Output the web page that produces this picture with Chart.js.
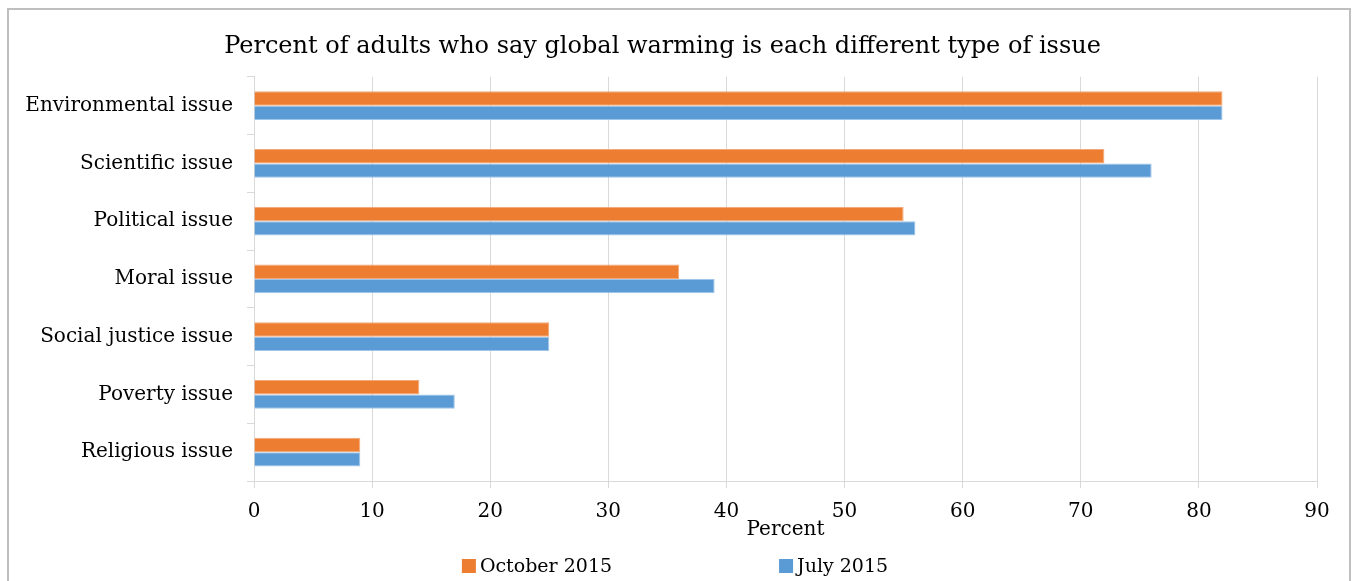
<!DOCTYPE html>
<html>
<head>
<meta charset="utf-8">
<script src="https://cdn.jsdelivr.net/npm/chart.js@4.4.1/dist/chart.umd.min.js"></script>
<style>
  html, body { margin: 0; padding: 0; background: #fff; }
  #wrap { position: relative; width: 1353px; height: 581px; overflow: hidden; }
  #frame { position: absolute; left: 7px; top: 8px; width: 1344px; height: 620px; border: 2px solid #bfbfbf; box-sizing: border-box; }
  canvas { position: absolute; left: 0; top: 0; }
</style>
</head>
<body>
<div id="wrap">
  <div id="frame"></div>
  <canvas id="issueChart" width="1353" height="581"></canvas>
</div>
<script>
// ===== DATA =====
const categories = ['Environmental issue', 'Scientific issue', 'Political issue', 'Moral issue',
  'Social justice issue', 'Poverty issue', 'Religious issue'];
const october2015 = [82, 72, 55, 36, 25, 14, 9];
const july2015 = [82, 76, 56, 39, 25, 17, 9];

const FONT = "'DejaVu Serif', serif";

// legend drawn by a small plugin so the wide gap between the two items can be kept
const wideLegend = {
  id: 'wideLegend',
  afterDraw(chart) {
    const c = chart.ctx;
    const gap = 167, box = 14, y = 566;
    c.save();
    c.font = '19px ' + FONT;
    c.textBaseline = 'middle';
    const items = chart.data.datasets.map(ds => ({
      text: ds.label, color: ds.backgroundColor, w: box + 4 + c.measureText(ds.label).width
    }));
    const total = items.reduce((s, it) => s + it.w, 0) + gap * (items.length - 1);
    let x = 675 - total / 2;
    items.forEach(it => {
      c.fillStyle = it.color;
      c.fillRect(x, y - box / 2, box, box);
      c.fillStyle = '#000';
      c.fillText(it.text, x + box + 4, y + 1);
      x += it.w + gap;
    });
    c.restore();
  }
};

// ===== CHART =====
const ctx = document.getElementById('issueChart');
new Chart(ctx, {
  type: 'bar',
  data: {
    labels: categories,
    datasets: [{
      label: 'October 2015',
      data: october2015,
      backgroundColor: '#ED7D31',
      borderColor: '#f3a877',
      borderWidth: 1,
      categoryPercentage: 0.5,
      barPercentage: 1.0
    }, {
      label: 'July 2015',
      data: july2015,
      backgroundColor: '#5B9BD5',
      borderColor: '#9fc5e8',
      borderWidth: 1,
      categoryPercentage: 0.5,
      barPercentage: 1.0
    }]
  },
  plugins: [wideLegend],
  options: {
    indexAxis: 'y',
    responsive: false,
    animation: false,
    layout: { padding: { left: 8, right: 36, top: 14, bottom: 39 } },
    plugins: {
      title: {
        display: true,
        text: 'Percent of adults who say global warming is each different type of issue',
        color: '#000',
        font: { family: FONT, size: 24, weight: 'normal' },
        padding: { top: 18, bottom: 16 }
      },
      legend: { display: false },
      tooltip: { enabled: false }
    },
    scales: {
      x: {
        min: 0,
        max: 90,
        afterFit: (scale) => { scale.height -= 18; },
        ticks: { stepSize: 10, color: '#000', font: { family: FONT, size: 20 }, padding: 12 },
        grid: { color: '#d9d9d9', tickLength: 7, tickColor: '#d9d9d9' },
        border: { color: '#d9d9d9' },
        title: {
          display: true,
          text: 'Percent',
          color: '#000',
          font: { family: FONT, size: 20 },
          padding: { top: 0, bottom: 0 }
        }
      },
      y: {
        afterFit: (scale) => { scale.width = 246; },
        ticks: { color: '#000', font: { family: FONT, size: 20 }, padding: 14 },
        grid: { offset: true, drawOnChartArea: false, tickLength: 7, color: '#d9d9d9' },
        border: { color: '#d9d9d9' }
      }
    }
  }
});
</script>
</body>
</html>
